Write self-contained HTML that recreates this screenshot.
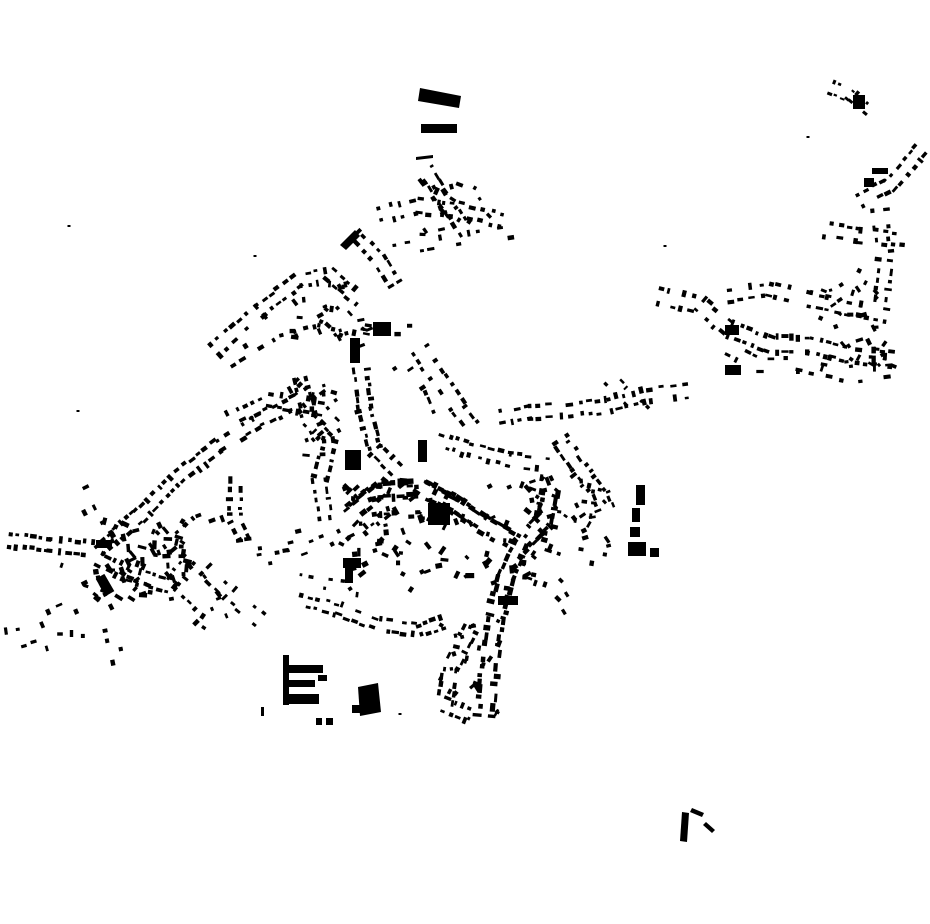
<!DOCTYPE html>
<html><head><meta charset="utf-8">
<style>
html,body{margin:0;padding:0;background:#fff;}
svg{display:block;}
</style></head>
<body>
<svg id="s" width="930" height="924" viewBox="0 0 930 924" xmlns="http://www.w3.org/2000/svg">
<rect width="930" height="924" fill="#fff"/>
<g fill="#000">
<polygon points="420,88 461,96 459,108 418,101"/>
<rect x="421" y="124" width="36" height="9"/>
<polygon points="416,157 433,155 433,158 416,160"/>
<rect x="283" y="655" width="6" height="50"/>
<rect x="283" y="665" width="40" height="8"/>
<rect x="285" y="680" width="30" height="7"/>
<rect x="283" y="694" width="36" height="10"/>
<rect x="318" y="675" width="9" height="6"/>
<polygon points="358,687 378,683 381,712 360,716"/>
<rect x="352" y="705" width="10" height="8"/>
<rect x="316" y="718" width="6" height="7"/>
<rect x="326" y="718" width="7" height="7"/>
<rect x="261" y="707" width="3" height="9"/>
<polygon points="682,812 689,813 687,842 680,841"/>
<polygon points="692,808 704,813 702,817 690,812"/>
<polygon points="706,822 715,830 712,833 703,825"/>
<rect x="636" y="485" width="9" height="20"/>
<rect x="632" y="508" width="8" height="14"/>
<rect x="630" y="527" width="10" height="10"/>
<rect x="628" y="542" width="18" height="14"/>
<rect x="650" y="548" width="9" height="9"/>
<rect x="498" y="596" width="20" height="9"/>
<rect x="418" y="440" width="9" height="22"/>
<rect x="345" y="450" width="16" height="20"/>
<rect x="428" y="503" width="22" height="22"/>
<rect x="343" y="558" width="18" height="10"/>
<rect x="345" y="568" width="8" height="15"/>
<rect x="350" y="338" width="10" height="25"/>
<rect x="373" y="322" width="18" height="14"/>
<polygon points="340,245 355,230 360,236 346,250"/>
<rect x="725" y="325" width="14" height="10"/>
<rect x="725" y="365" width="16" height="10"/>
<rect x="100" y="575" width="10" height="20" transform="rotate(-30 105 585)"/>
<rect x="96" y="540" width="16" height="8"/>
<rect x="864" y="178" width="10" height="9"/>
<rect x="872" y="168" width="16" height="6"/>
<rect x="853" y="95" width="12" height="14"/>
</g>
<g id="d" fill="#000"></g>
</svg>
<script>
var seed=12345;function r(){seed=(seed*16807)%2147483647;return (seed-1)/2147483646;}
var g=document.getElementById('d');var NS='http://www.w3.org/2000/svg';
function box(x,y,w,h,a){var e=document.createElementNS(NS,'rect');e.setAttribute('x',(x-w/2).toFixed(1));e.setAttribute('y',(y-h/2).toFixed(1));e.setAttribute('width',w.toFixed(1));e.setAttribute('height',h.toFixed(1));e.setAttribute('transform','rotate('+a.toFixed(1)+' '+x.toFixed(1)+' '+y.toFixed(1)+')');g.appendChild(e);}
function street(pts,sp,off,sz,both){
 for(var i=0;i<pts.length-1;i++){var x1=pts[i][0],y1=pts[i][1],x2=pts[i+1][0],y2=pts[i+1][1];
  var dx=x2-x1,dy=y2-y1,L=Math.hypot(dx,dy),ux=dx/L,uy=dy/L,nx=-uy,ny=ux,a=Math.atan2(dy,dx)*180/Math.PI;
  for(var t=0;t<L;t+=sp*(0.7+r()*0.6)){
   var sides=both?[1,-1]:[r()<0.5?1:-1];
   for(var k=0;k<sides.length;k++){if(r()<0.15)continue;var s=sides[k],o=off*(0.8+r()*0.5);
    var w=sz*(0.7+r()*0.8),h=sz*(0.5+r()*0.4);
    box(x1+ux*t+nx*o*s,y1+uy*t+ny*o*s,w,h,a+(r()<0.3?90:0));}
  }}
}
function scat(x,y,w,h,n,sz){for(var i=0;i<n;i++){box(x+r()*w,y+r()*h,sz*(0.6+r()*0.9),sz*(0.5+r()*0.4),r()*180);}}
var S=[
[[[425,170],[440,195],[455,215],[470,240]],10,6,5,1],
[[[380,215],[420,205],[460,210],[510,222]],11,6,5,1],
[[[395,250],[430,245],[470,238],[510,232]],12,5,5,0],
[[[215,350],[260,310],[300,280],[330,275],[360,300]],10,6,5,1],
[[[355,235],[380,260],[395,285]],9,5,5,1],
[[[230,360],[280,330],[320,320],[370,330]],12,5,5,0],
[[[10,540],[50,545],[100,550],[140,515],[180,475],[220,445],[260,420],[300,400],[320,385]],9,6,5,1],
[[[100,560],[130,575],[170,585],[190,560]],7,6,5,1],
[[[60,570],[90,580],[110,620],[120,670]],12,6,5,0],
[[[5,625],[40,620],[75,605]],12,5,5,0],
[[[25,650],[60,640],[100,640]],14,5,5,0],
[[[80,490],[90,510],[100,530]],9,5,5,0],
[[[230,420],[270,400],[300,405],[330,410]],9,6,5,1],
[[[300,380],[310,420],[330,440],[320,480],[325,520]],9,6,5,1],
[[[355,510],[380,490],[420,488],[455,505],[485,525],[520,545],[545,520],[550,490]],6,7,6,1],
[[[355,520],[380,500],[420,498],[455,515]],6,14,5,1],
[[[520,545],[505,580],[495,620],[490,660],[485,720]],8,7,6,1],
[[[470,630],[450,670],[445,705],[470,715]],8,6,5,1],
[[[300,600],[340,610],[380,625],[420,630],[450,620]],9,5,5,1],
[[[300,580],[330,585],[370,590]],14,5,4,0],
[[[205,570],[230,595],[260,620]],10,6,5,1],
[[[180,600],[200,620],[215,630]],10,5,5,0],
[[[235,480],[235,520],[245,540]],8,5,5,1],
[[[240,545],[280,540],[300,535]],10,5,5,0],
[[[260,560],[290,555],[330,540],[350,530]],11,5,5,0],
[[[360,370],[365,410],[375,450],[395,470]],8,6,5,1],
[[[420,350],[440,380],[460,410],[475,430]],10,7,5,1],
[[[400,365],[420,395],[430,420]],10,5,5,0],
[[[360,340],[385,330],[410,330]],10,5,5,0],
[[[440,440],[470,450],[510,460],[555,465]],9,6,5,1],
[[[490,420],[530,412],[570,410],[610,405],[650,395],[690,390]],10,6,5,1],
[[[610,380],[630,400],[650,420]],10,6,4,0],
[[[560,440],[580,470],[600,495],[610,520]],8,7,5,1],
[[[520,490],[560,505],[600,510]],10,6,5,0],
[[[550,545],[580,555],[610,560]],10,5,5,0],
[[[520,570],[550,580],[570,600],[545,615]],10,6,5,0],
[[[660,295],[700,305],[730,330],[770,345],[810,345],[850,355],[895,360]],8,7,5,1],
[[[730,295],[770,290],[810,300],[860,310],[890,315]],9,6,5,1],
[[[730,350],[760,365],[800,365],[850,375],[890,370]],10,6,5,0],
[[[825,230],[860,235],[905,240]],8,6,5,1],
[[[860,200],[890,185],[920,150]],9,6,5,1],
[[[880,210],[885,260],[880,300]],10,6,5,1],
[[[830,300],[860,280],[870,260]],10,5,5,0],
[[[832,88],[850,95],[868,110]],6,5,4,1],
[[[870,330],[880,350],[880,370]],8,5,5,0],
[[[200,580],[215,600],[225,625]],10,5,5,0],
[[[170,545],[200,520],[240,505]],12,5,5,0]
];
for(var i=0;i<S.length;i++){street(S[i][0],S[i][1],S[i][2],S[i][3],S[i][4]);}
scat(95,520,95,80,70,6);
scat(340,480,210,110,90,6);
scat(290,280,80,60,30,5);
scat(290,380,50,80,25,5);
scat(420,180,80,60,20,5);
scat(820,290,80,80,30,5);
scat(530,470,80,80,30,5);
scat(440,620,60,100,25,5);
[[69,226],[255,256],[665,246],[808,137],[78,411],[400,714]].forEach(function(p){box(p[0],p[1],3,2,0);});
</script>
</body></html>
